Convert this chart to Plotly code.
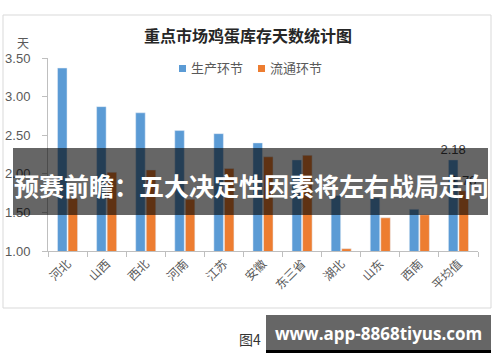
import plotly.graph_objects as go

categories = ["河北", "山西", "西北", "河南", "江苏", "安徽", "东三省", "湖北", "山东", "西南", "平均值"]
production = [3.37, 2.87, 2.79, 2.56, 2.52, 2.40, 2.18, 1.72, 1.69, 1.54, 2.18]
circulation = [1.68, 2.02, 2.05, 1.67, 2.07, 2.22, 2.24, 1.03, 1.43, 1.47, 1.78]
series_names = ["生产环节", "流通环节"]
series_colors = ["#5b9bd5", "#ed7d31"]
y_ticks = [1.0, 1.5, 2.0, 2.5, 3.0, 3.5]

W, H = 500, 362

def py(y):
    return 1 - y / H

def label_last(vals):
    return [""] * (len(vals) - 1) + [f"{vals[-1]:.2f}"]

fig = go.Figure()
for name, vals, col in zip(series_names, [production, circulation], series_colors):
    fig.add_trace(go.Bar(
        x=categories, y=vals, name=name,
        marker_color=col, text=label_last(vals),
        textposition="outside", constraintext="none",
        textfont=dict(size=13, color="#404040", family="Liberation Sans"),
        cliponaxis=False, hoverinfo="skip",
    ))

fig.update_layout(
    width=W, height=H,
    margin=dict(l=0, r=0, t=0, b=0),
    paper_bgcolor="white", plot_bgcolor="white",
    barmode="group", bargap=0.46, bargroupgap=0.1,
    showlegend=False,
    xaxis=dict(domain=[48 / W, 478 / W], showline=True, linecolor="#bfbfbf",
               ticks="outside", tickson="boundaries", ticklen=5, tickcolor="#bfbfbf",
               tickangle=-45, tickfont=dict(size=12, color="#595959", family="Noto Sans CJK SC"),
               automargin=False, showgrid=False, fixedrange=True),
    yaxis=dict(domain=[py(251), py(58)], range=[1, 3.5], tickvals=y_ticks, tickformat=".2f",
               showline=True, linecolor="#bfbfbf", ticks="outside", ticklen=5, tickcolor="#bfbfbf",
               tickfont=dict(size=13, color="#595959", family="Liberation Sans"),
               ticklabelstandoff=9,
               showgrid=False, zeroline=False, automargin=False, fixedrange=True),
)

shapes = [
    # chart frame
    dict(type="rect", xref="paper", yref="paper", x0=3 / W, x1=491 / W, y0=py(308), y1=py(15),
         line=dict(color="#d9d9d9", width=1), fillcolor="rgba(0,0,0,0)", layer="below"),
    # legend squares
    dict(type="rect", xref="paper", yref="paper", x0=179 / W, x1=186 / W, y0=py(72), y1=py(65),
         line=dict(width=0), fillcolor=series_colors[0]),
    dict(type="rect", xref="paper", yref="paper", x0=258 / W, x1=265 / W, y0=py(72), y1=py(65),
         line=dict(width=0), fillcolor=series_colors[1]),
    # dark overlay banner
    dict(type="rect", xref="paper", yref="paper", x0=13 / W, x1=488 / W, y0=py(215), y1=py(148),
         line=dict(width=0), fillcolor="rgba(0,0,0,0.6)", layer="above"),
    # url banner
    dict(type="rect", xref="paper", yref="paper", x0=266 / W, x1=491 / W, y0=py(350), y1=py(315),
         line=dict(width=0), fillcolor="#666666", layer="above"),
    dict(type="rect", xref="paper", yref="paper", x0=266 / W, x1=491 / W, y0=py(353), y1=py(350),
         line=dict(width=0), fillcolor="#000000", layer="above"),
]
fig.update_layout(shapes=shapes)

annotations = [
    dict(text="<b>重点市场鸡蛋库存天数统计图</b>", x=248 / W, y=py(35), xref="paper", yref="paper",
         showarrow=False, xanchor="center", yanchor="middle",
         font=dict(size=16, color="#262626", family="Noto Sans CJK SC")),
    dict(text="天", x=23 / W, y=py(42), xref="paper", yref="paper", showarrow=False,
         xanchor="center", yanchor="middle", font=dict(size=12, color="#595959", family="Noto Sans CJK SC")),
    dict(text=series_names[0], x=189 / W, y=py(68), xref="paper", yref="paper", showarrow=False,
         xanchor="left", yanchor="middle", font=dict(size=13, color="#595959", family="Noto Sans CJK SC")),
    dict(text=series_names[1], x=268 / W, y=py(68), xref="paper", yref="paper", showarrow=False,
         xanchor="left", yanchor="middle", font=dict(size=13, color="#595959", family="Noto Sans CJK SC")),
    dict(text="<b>预赛前瞻：五大决定性因素将左右战局走向</b>", x=251 / W, y=py(185), xref="paper", yref="paper",
         showarrow=False, xanchor="center", yanchor="middle",
         font=dict(size=25, color="white", family="Noto Sans CJK SC")),
    dict(text="图4", x=237 / W, y=py(339), xref="paper", yref="paper", showarrow=False,
         xanchor="left", yanchor="middle", font=dict(size=14, color="#333333", family="Noto Sans CJK SC")),
    dict(text="<b>www.app-8868tiyus.com</b>", x=378 / W, y=py(333), xref="paper", yref="paper",
         showarrow=False, xanchor="center", yanchor="middle",
         font=dict(size=17, color="white", family="Open Sans")),
]
fig.update_layout(annotations=annotations)

fig.write_html("out.html", config={"displayModeBar": False},
               post_script="document.body.style.margin='0';document.body.style.padding='0';")
